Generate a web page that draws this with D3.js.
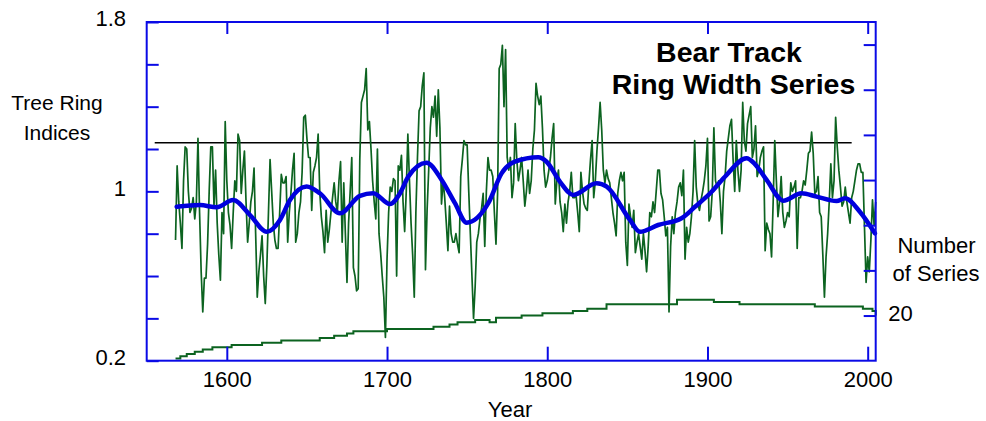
<!DOCTYPE html>
<html>
<head>
<meta charset="utf-8">
<script src="https://cdn.jsdelivr.net/npm/d3@7"></script>
<style>
  body { margin: 0; background: #fff; }
  svg text { font-family: "Liberation Sans", Arial, sans-serif; fill: #000; }
</style>
</head>
<body>
<svg id="chart" width="986" height="421"></svg>
<script>
// ---- Bear Track ring width chronology ----
const ringStartYear = 1568;
const ringIndex = [
  0.77, 1.12,
  0.95, 0.85, 0.73, 1.05, 1.21, 1.20, 1.00, 0.90, 0.92, 0.97,
  0.87, 0.95, 1.25, 0.90, 0.62, 0.43, 0.59, 0.59, 0.75, 1.00,
  1.21, 1.21, 0.93, 1.10, 0.85, 0.70, 0.58, 0.90, 0.80, 1.33,
  1.05, 0.90, 0.84, 0.73, 0.90, 1.05, 1.00, 1.27, 1.24, 0.99,
  1.10, 1.19, 0.95, 0.76, 0.85, 0.95, 1.00, 1.11, 0.80, 0.50,
  0.62, 0.70, 0.79, 0.60, 0.47, 0.65, 0.90, 1.15, 1.00, 0.85,
  0.77, 0.73, 0.73, 0.90, 1.08, 1.04, 1.04, 1.07, 0.76, 0.90,
  0.99, 1.10, 1.18, 0.76, 0.80, 0.90, 0.95, 1.09, 1.35, 1.36,
  1.25, 1.16, 1.16, 0.91, 1.09, 1.12, 1.16, 1.27, 1.00, 0.88,
  0.81, 0.71, 0.91, 0.76, 0.82, 0.90, 0.97, 1.04, 0.95, 0.90,
  1.05, 1.14, 0.76, 1.04, 0.80, 0.57, 0.85, 1.00, 1.16, 0.64,
  0.60, 0.53, 0.54, 1.15, 1.42, 1.45, 1.48, 1.58, 1.29, 1.33,
  1.20, 1.05, 0.95, 0.87, 1.20, 0.80, 0.71, 0.60, 0.50, 0.31,
  0.68, 0.90, 1.02, 1.00, 1.06, 1.05, 0.60, 1.12, 1.10, 1.17,
  0.95, 0.81, 1.00, 1.27, 1.05, 0.85, 0.70, 0.50, 0.90, 1.16,
  1.38, 1.40, 1.50, 1.56, 0.63, 0.91, 1.10, 1.30, 1.40, 1.35,
  1.45, 1.26, 1.48, 1.30, 0.94, 1.05, 0.97, 0.85, 0.72, 0.93,
  0.80, 0.76, 0.76, 0.80, 0.75, 0.71, 1.07, 1.15, 1.24, 1.22,
  1.22, 1.00, 0.80, 0.60, 0.40, 0.55, 0.76, 0.80, 0.87, 0.92,
  0.99, 0.74, 1.00, 1.16, 1.10, 1.10, 1.07, 0.90, 0.75, 0.99,
  1.58, 1.60, 1.69, 1.40, 1.67, 1.16, 1.10, 1.16, 0.97, 1.04,
  1.32, 1.15, 1.05, 1.10, 1.16, 1.05, 0.93, 1.00, 1.10, 0.99,
  1.05, 1.20, 1.29, 1.51, 1.45, 1.41, 1.45, 1.30, 1.10, 1.02,
  1.05, 1.10, 1.16, 1.25, 1.32, 0.94, 1.05, 1.10, 0.95, 0.90,
  0.81, 0.94, 0.85, 0.95, 1.00, 1.09, 0.97, 0.97, 0.98, 0.90,
  0.81, 1.09, 1.00, 0.94, 0.92, 0.91, 1.04, 1.15, 1.24, 0.97,
  1.05, 1.19, 1.30, 1.42, 1.29, 1.10, 1.04, 1.10, 1.06, 1.04,
  0.97, 0.90, 0.85, 0.79, 0.99, 1.05, 1.09, 1.05, 1.09, 0.76,
  0.65, 0.94, 0.88, 0.83, 0.91, 0.71, 0.76, 0.80, 0.74, 0.68,
  0.80, 0.72, 0.62, 0.74, 0.90, 0.88, 0.95, 0.90, 1.00, 1.10,
  1.10, 0.99, 0.96, 0.88, 0.79, 0.83, 0.43, 0.74, 0.88, 0.80,
  0.90, 0.95, 1.02, 1.04, 0.98, 1.10, 0.68, 0.83, 0.76, 0.80,
  0.88, 1.00, 1.24, 1.02, 0.94, 0.91, 0.96, 1.00, 1.05, 1.12,
  1.25, 0.86, 0.88, 1.00, 1.30, 1.05, 1.02, 1.05, 0.95, 0.80,
  1.00, 1.07, 1.19, 1.25, 1.31, 1.34, 1.15, 1.00, 1.24, 1.10,
  1.00, 1.10, 1.42, 1.24, 1.19, 1.32, 1.36, 1.40, 1.16, 1.20,
  1.31, 1.07, 1.10, 1.16, 1.19, 1.21, 0.72, 0.85, 0.82, 0.80,
  0.69, 0.95, 1.24, 1.05, 0.88, 0.95, 1.07, 0.90, 0.83, 0.86,
  0.90, 0.88, 1.04, 1.00, 1.02, 1.05, 0.73, 0.97, 0.97, 1.00,
  1.05, 1.03, 1.10, 1.18, 1.19, 1.28, 1.18, 0.99, 1.00, 1.07,
  0.90, 0.88, 0.70, 0.50, 0.69, 0.80, 0.95, 1.13, 0.97, 1.05,
  1.35, 1.21, 1.10, 1.02, 0.93, 0.95, 1.02, 0.95, 0.90, 0.85,
  0.97, 1.00, 1.05, 1.10, 1.13, 1.13, 1.09, 1.09, 0.83, 0.57,
  0.69, 0.62, 0.77, 0.96, 0.84, 0.95
];

// Smoothed chronology (spline fit)
const smoothYears = [1568.7, 1583.3, 1593.7, 1603.9, 1614.5, 1624.9, 1633.2, 1639.4, 1649.8, 1658.1,
  1670.6, 1683.1, 1691.4, 1701.8, 1708.1, 1713.2, 1724.7, 1734.1, 1742.4, 1749.7,
  1763.2, 1771.5, 1779.8, 1794.4, 1799.6, 1807.9, 1816.2, 1830.8, 1837.1, 1851.6,
  1857.8, 1869.2, 1883.8, 1892.2, 1902.6, 1910.9, 1924.4, 1929.6, 1936.9, 1947.3,
  1958.7, 1968.1, 1980.6, 1985.8, 1995.1, 2004.5];
const smoothValues = [0.927, 0.935, 0.925, 0.959, 0.888, 0.809, 0.865, 0.959, 1.023, 0.991,
  0.896, 0.979, 0.991, 0.940, 0.991, 1.069, 1.135, 1.054, 0.944, 0.852,
  0.944, 1.085, 1.140, 1.161, 1.140, 1.046, 0.983, 1.038, 1.022, 0.865,
  0.809, 0.841, 0.873, 0.927, 0.998, 1.069, 1.156, 1.129, 1.054, 0.956,
  0.991, 0.975, 0.954, 0.967, 0.904, 0.802];

// Sample depth: year where the count changes, and the new count
const depthYears  = [1568, 1571, 1575, 1580, 1585, 1591, 1603, 1622, 1634, 1658, 1667, 1675, 1679, 1700,
  1729, 1739, 1744, 1755, 1764, 1768, 1784, 1797, 1816, 1825, 1837, 1881, 1904, 1920, 1967, 1997, 2003, 2005];
const depthCounts = [1, 2, 3, 4, 5, 6, 7, 8, 9, 10, 11, 12, 13, 14,
  15, 16, 17, 18, 17, 19, 20, 21, 22, 23, 25, 27, 26, 25, 24, 23, 22, 20];

const yearTicks = [1600, 1700, 1800, 1900, 2000];
const indexTicks = [0.2, 0.4, 0.6, 0.8, 1.0, 1.2, 1.4, 1.6, 1.8];
const indexLabels = [0.2, 1.0, 1.8];
const depthTicks = [20, 40, 60, 80, 100, 120, 140];
const depthLabels = [20];
const referenceLevel = 1.23;
const referenceSpan = [1555, 1990];

// ---- layout ----
const svg = d3.select("#chart");
const L = 146.7, R = 875.7, T = 22, B = 360.7;
const axisBlue = "#0a0ae6";
const ringGreen = "#0c6320";

const x = d3.scaleLinear().domain([1550, 2005]).range([L, R]);
const yIdx = d3.scaleLinear().domain([0.2, 1.8]).range([B, T]);
const yDepth = d3.scaleLinear().domain([0, 150]).range([B, T]);

const ring = ringIndex.map((v, i) => ({ year: ringStartYear + i, v }));
const smooth = smoothYears.map((yr, i) => ({ year: yr, v: smoothValues[i] }));
const depth = depthYears.map((yr, i) => ({ year: yr, n: depthCounts[i] }));

// sample depth step line
svg.append("path")
  .datum(depth)
  .attr("fill", "none")
  .attr("stroke", ringGreen)
  .attr("stroke-width", 2)
  .attr("d", d3.line().x(d => x(d.year)).y(d => yDepth(d.n)).curve(d3.curveStepAfter));

// reference line
svg.append("line")
  .attr("x1", x(referenceSpan[0])).attr("x2", x(referenceSpan[1]))
  .attr("y1", yIdx(referenceLevel)).attr("y2", yIdx(referenceLevel))
  .attr("stroke", "#000").attr("stroke-width", 1.5);

// annual ring width indices
svg.append("path")
  .datum(ring)
  .attr("fill", "none")
  .attr("stroke", ringGreen)
  .attr("stroke-width", 1.7)
  .attr("stroke-linejoin", "round")
  .attr("d", d3.line().x(d => x(d.year)).y(d => yIdx(d.v)));

// smoothed curve
svg.append("path")
  .datum(smooth)
  .attr("fill", "none")
  .attr("stroke", "#0000dd")
  .attr("stroke-width", 4.5)
  .attr("stroke-linecap", "round")
  .attr("d", d3.line().x(d => x(d.year)).y(d => yIdx(d.v)).curve(d3.curveMonotoneX));

// ---- axes (ticks pointing inward) ----
function styleAxis(g) {
  g.select(".domain").remove();
  g.selectAll(".tick line").attr("stroke", axisBlue).attr("stroke-width", 2);
  g.selectAll(".tick text").attr("font-size", 22).attr("fill", "#000")
    .style("font-family", '"Liberation Sans", Arial, sans-serif');
}

svg.append("g").attr("transform", `translate(0,${B})`)
  .call(d3.axisBottom(x).tickValues(yearTicks).tickSize(-14).tickPadding(11).tickFormat(d3.format("d")))
  .call(styleAxis);

svg.append("g").attr("transform", `translate(0,${T})`)
  .call(d3.axisTop(x).tickValues(yearTicks).tickSize(-12).tickFormat(""))
  .call(styleAxis);

svg.append("g").attr("transform", `translate(${L},0)`)
  .call(d3.axisLeft(yIdx).tickValues(indexTicks).tickSize(-12).tickPadding(20.7)
    .tickFormat(d => indexLabels.includes(d) ? d3.format("~g")(d) : ""))
  .call(styleAxis)
  .call(g => g.selectAll(".tick text").attr("dy", "0.18em"));

svg.append("g").attr("transform", `translate(${R},0)`)
  .call(d3.axisRight(yDepth).tickValues(depthTicks).tickSize(-12).tickPadding(12.6)
    .tickFormat(d => depthLabels.includes(d) ? String(d) : ""))
  .call(styleAxis)
  .call(g => g.selectAll(".tick text").attr("dy", "0.24em"));

// frame
svg.append("rect")
  .attr("x", L).attr("y", T).attr("width", R - L).attr("height", B - T)
  .attr("fill", "none").attr("stroke", axisBlue).attr("stroke-width", 2);

// ---- titles and axis labels ----
const title = svg.append("text").attr("text-anchor", "middle")
  .attr("font-size", 28.5).attr("font-weight", "bold");
title.append("tspan").attr("x", 729).attr("y", 62).text("Bear Track");
title.append("tspan").attr("x", 733.5).attr("y", 93.5).text("Ring Width Series");

const yLab = svg.append("text").attr("text-anchor", "middle").attr("font-size", 21);
yLab.append("tspan").attr("x", 57).attr("y", 110).text("Tree Ring");
yLab.append("tspan").attr("x", 57).attr("y", 140).text("Indices");

const rLab = svg.append("text").attr("text-anchor", "middle").attr("font-size", 22);
rLab.append("tspan").attr("x", 936.5).attr("y", 252.5).text("Number");
rLab.append("tspan").attr("x", 936).attr("y", 280.5).text("of Series");

svg.append("text").attr("x", 510).attr("y", 416.5).attr("text-anchor", "middle")
  .attr("font-size", 22).text("Year");
</script>
</body>
</html>
